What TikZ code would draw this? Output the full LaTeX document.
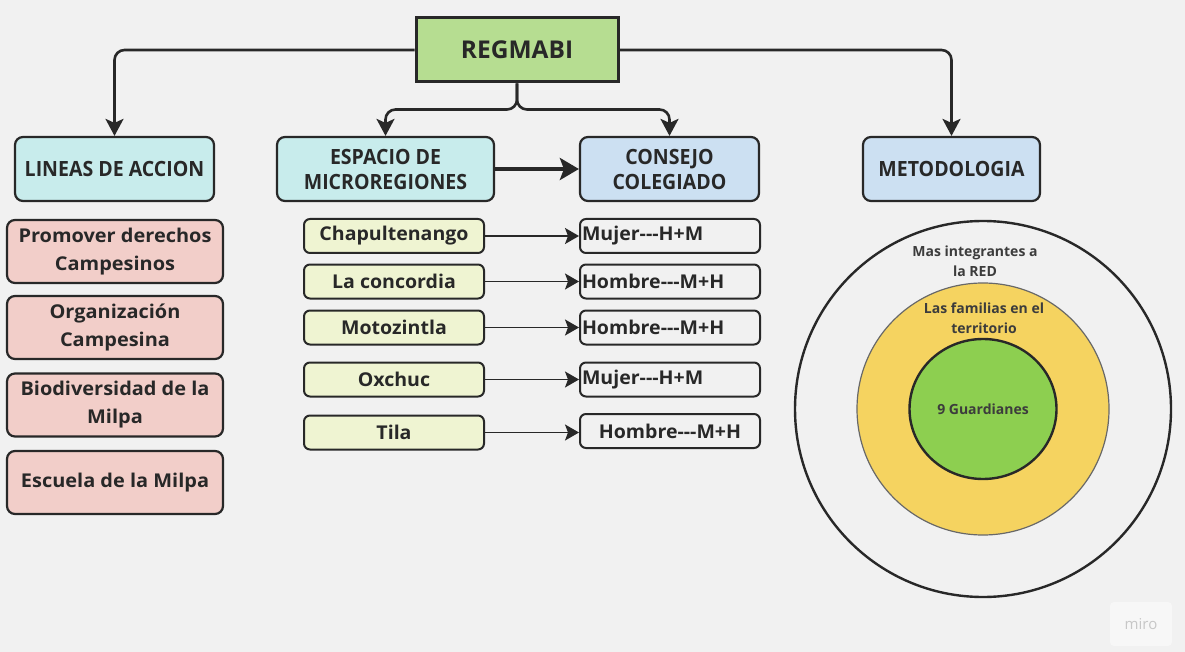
\documentclass[tikz,border=0pt]{standalone}
\usepackage{fontspec}
\setmainfont{Open Sans}
\newfontfamily\hdrfont{Open Sans}[FakeStretch=0.93]
\newfontfamily\widefont{Open Sans}[FakeStretch=1.05]
\newfontfamily\townfont{Open Sans}[FakeStretch=1.03]
\usetikzlibrary{arrows.meta,shapes.geometric}
\definecolor{bg}{RGB}{241,241,241}
\definecolor{ink}{RGB}{40,40,40}
\definecolor{regfill}{RGB}{182,221,145}
\definecolor{cyanfill}{RGB}{200,236,236}
\definecolor{bluefill}{RGB}{204,224,242}
\definecolor{pinkfill}{RGB}{242,206,201}
\definecolor{limefill}{RGB}{239,244,210}
\definecolor{yellowfill}{RGB}{245,211,96}
\definecolor{greenfill}{RGB}{141,207,80}
\definecolor{circtext}{RGB}{60,60,60}
\begin{document}
\begin{tikzpicture}[x=1pt,y=-1pt,
  box/.style={draw=ink, line width=2.2pt, rounded corners=8pt, inner sep=0pt, align=center, text=ink},
  hdr/.style={box, minimum height=64pt, font=\hdrfont\bfseries\fontsize{21}{25}\selectfont},
  item/.style={box, minimum width=216pt, minimum height=63pt, fill=pinkfill, font=\widefont\bfseries\fontsize{19}{28}\selectfont},
  town/.style={box, line width=2pt, rounded corners=6pt, minimum width=180pt, minimum height=34pt, fill=limefill, font=\townfont\bfseries\fontsize{19}{20}\selectfont},
  res/.style={town, fill=none, text width=176pt, align=left},
  resc/.style={town, fill=none},
  conn/.style={draw=ink, line width=2.6pt, rounded corners=10pt, -{Stealth[length=17pt,width=18pt,inset=4pt]}},
  bigarrow/.style={draw=ink, line width=4pt, -{Stealth[length=19pt,width=22pt,inset=4pt]}},
  rowarrow/.style={draw=ink, line width=1.5pt, -{Stealth[length=14pt,width=16pt,inset=3pt]}},
  ring/.style={circle, inner sep=0pt},
  ctext/.style={text=circtext, align=center, font=\bfseries\fontsize{14}{20}\selectfont}
]
\fill[bg] (0,0) rectangle (1185,652);
\useasboundingbox (0,0) rectangle (1185,652);

% top
\node[box, rounded corners=0pt, line width=3pt, fill=regfill, minimum width=202pt, minimum height=64pt,
      font=\bfseries\fontsize{24.5}{26}\selectfont] (reg) at (517,50) {REGMABI};

\node[hdr, fill=cyanfill, minimum width=199pt] (lin) at (114.5,169) {LINEAS DE ACCION};
\node[hdr, fill=cyanfill, minimum width=217pt] (esp) at (385.5,169) {ESPACIO DE\\MICROREGIONES};
\node[hdr, fill=bluefill, minimum width=179pt] (con) at (669.5,169) {CONSEJO\\COLEGIADO};
\node[hdr, fill=bluefill, minimum width=177pt] (met) at (951.5,169) {METODOLOGIA};

\draw[conn] (reg.west) -| (lin.north);
\draw[conn] (reg.east) -| (met.north);
\draw[conn] (reg.south) -- ++(0,26) -| (esp.north);
\draw[conn] (reg.south) -- ++(0,26) -| (con.north);
\draw[bigarrow] (esp.east) -- (con.west);

% left column
\node[item] (p1) at (115,251.5) {Promover derechos\\Campesinos};
\node[item] (p2) at (115,327.5) {Organización\\Campesina};
\node[item] (p3) at (115,405) {Biodiversidad de la\\Milpa};
\node[item] (p4) at (115,482.5) {Escuela de la Milpa};

% middle
\node[town] (t1) at (394,236) {Chapultenango};
\node[town] (t2) at (394,281.5) {La concordia};
\node[town] (t3) at (394,327.5) {Motozintla};
\node[town] (t4) at (394,379.5) {Oxchuc};
\node[town] (t5) at (394,432.5) {Tila};

\node[res] (r1) at (670,236) {Mujer-{}-{}-H+M};
\node[res] (r2) at (670,281.5) {Hombre-{}-{}-M+H};
\node[res] (r3) at (670,327.5) {Hombre-{}-{}-M+H};
\node[res] (r4) at (670,379.5) {Mujer-{}-{}-H+M};
\node[resc] (r5) at (670,431) {Hombre-{}-{}-M+H};

\draw[rowarrow] (t1.east) -- (r1.west);
\draw[rowarrow] (t2.east) -- (r2.west);
\draw[rowarrow] (t3.east) -- (r3.west);
\draw[rowarrow] (t4.east) -- (r4.west);
\draw[rowarrow] (t5.east) -- (r5.west |- t5.east);

% circles
\node[ring, draw=ink, line width=2.4pt, minimum size=376pt] (c1) at (983,409) {};
\node[ring, draw=ink!70, line width=1.2pt, fill=yellowfill, minimum size=252pt] (c2) at (983,409) {};
\node[ellipse, inner sep=0pt, draw=ink, line width=2.4pt, fill=greenfill, minimum width=147pt, minimum height=140pt] (c3) at (983,409) {};
\node[ctext] (l1) at (975,261) {Mas integrantes a\\la RED};
\node[ctext] (l2) at (984,318) {Las familias en el\\territorio};
\node[ctext] (l3) at (983,409) {9 Guardianes};

% watermark
\node[fill=white!40!bg, rounded corners=4pt, minimum width=62pt, minimum height=44pt, inner sep=0pt,
      text=black!22, font=\fontsize{15}{16}\selectfont] (miro) at (1141,624) {miro};
\end{tikzpicture}
\end{document}
